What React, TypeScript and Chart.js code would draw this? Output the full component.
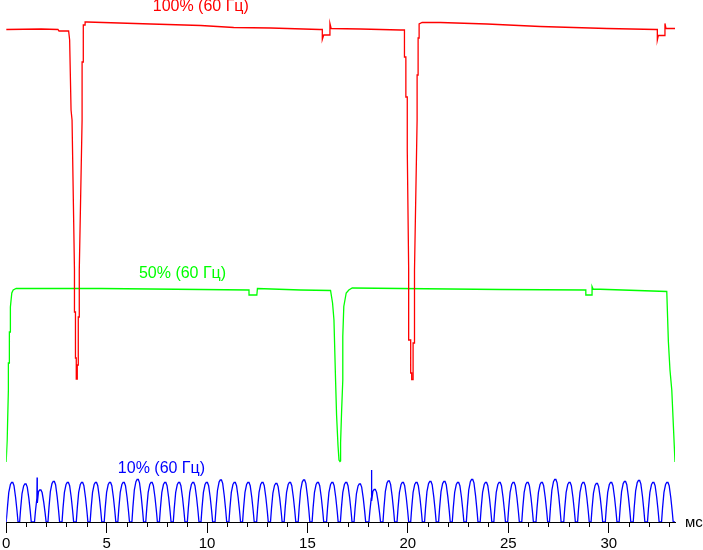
import React, { useEffect, useRef } from "react";
import { Chart, registerables } from "chart.js";

Chart.register(...registerables);

// ---- axis data ----
const X_MIN = 0;
const X_MAX = 33.3; // ms
const Y_MIN = 0;
const Y_MAX = 104.4; // arbitrary brightness units
const MAJOR_STEP = 5;
const MINOR_STEP = 1;
const X_UNIT = "мс";

// ---- series data: [time ms, level] ----
const redTrace: [number, number][] = [
  [0, 98.5], [1.74, 98.6], [2.58, 98.5], [2.63, 98.2], [3.11, 98.2], [3.16, 96.4],
  [3.23, 82.4], [3.28, 80.4], [3.4, 50.4], [3.4, 42.0], [3.45, 42.0], [3.45, 32.8],
  [3.49, 32.8], [3.49, 28.6], [3.54, 28.6], [3.54, 31.4], [3.59, 31.4], [3.59, 41.0],
  [3.64, 41.0], [3.64, 50.4], [3.78, 80.4], [3.78, 92.0], [3.84, 92.0], [3.84, 99.4],
  [3.93, 99.4], [3.93, 100.0], [4.03, 100.0], [7.21, 99.6], [9.69, 99.3], [11.33, 98.9],
  [13.17, 98.8], [15.61, 98.5], [15.74, 98.5], [15.74, 96.5], [15.81, 97.4], [16.08, 97.4],
  [16.12, 99.7], [16.18, 98.7], [17.64, 98.6], [19.63, 98.4], [19.83, 98.4], [19.83, 93.0],
  [19.9, 93.0], [19.9, 85.0], [19.97, 85.0], [19.97, 74.4], [20.04, 50.4], [20.04, 36.4],
  [20.14, 36.4], [20.14, 29.8], [20.19, 29.8], [20.19, 28.5], [20.26, 28.5], [20.26, 35.8],
  [20.33, 35.8], [20.33, 50.4], [20.46, 80.4], [20.46, 89.4], [20.51, 89.4], [20.51, 96.8],
  [20.56, 96.8], [20.56, 99.6], [20.71, 99.9], [21.62, 99.9], [23.94, 99.6], [26.59, 99.1],
  [29.91, 98.7], [32.36, 98.5], [32.42, 98.5], [32.42, 96.4], [32.47, 97.3], [32.78, 97.3],
  [32.8, 99.7], [32.85, 98.7], [33.3, 98.7],
];

const greenTrace: [number, number][] = [
  [0, 12.0], [0.05, 16.4], [0.11, 26.4], [0.11, 31.8], [0.16, 31.8], [0.16, 38.0],
  [0.21, 38.0], [0.21, 43.0], [0.28, 45.8], [0.35, 46.4], [0.5, 46.7], [4.72, 46.7],
  [9.69, 46.5], [12.09, 46.4], [12.09, 45.4], [12.48, 45.4], [12.51, 46.7], [14.66, 46.4],
  [16.15, 46.3], [16.25, 43.8], [16.32, 40.4], [16.4, 28.4], [16.45, 21.4], [16.52, 15.4],
  [16.57, 12.4], [16.62, 12.1], [16.65, 12.2], [16.65, 15.8], [16.7, 22.1], [16.76, 28.4],
  [16.76, 37.1], [16.81, 43.1], [16.93, 45.8], [17.06, 46.4], [17.23, 46.8], [19.63, 46.7],
  [24.6, 46.5], [28.86, 46.4], [28.86, 45.4], [29.17, 45.4], [29.17, 47.1], [29.22, 46.6],
  [32.89, 46.1], [32.97, 36.1], [33.05, 30.4], [33.14, 26.4], [33.3, 12.0],
];

// blue: PWM pulses (peak time ms, peak level)
const bluePeakMs = [
  0.3, 0.96, 1.7, 2.37, 3.07, 3.78, 4.47, 5.17, 5.85, 6.55, 7.24, 7.92, 8.61, 9.31, 9.99, 10.69,
  11.38, 12.06, 12.76, 13.45, 14.13, 14.83, 15.52, 16.24, 16.93, 17.61, 18.35, 19.05, 19.75,
  20.43, 21.12, 21.82, 22.5, 23.2, 23.89, 24.57, 25.26, 25.96, 26.67, 27.34, 28.05, 28.74,
  29.41, 30.12, 30.81, 31.51, 32.22, 32.92,
];
const bluePeakLevel = [
  7.9, 7.6, 6.4, 8.1, 7.9, 7.9, 7.9, 7.9, 7.9, 8.5, 7.9, 7.9, 7.9, 7.9, 7.9, 8.4,
  7.9, 7.9, 7.9, 7.7, 7.9, 8.4, 7.9, 7.9, 7.9, 7.6, 6.5, 8.2, 7.9, 7.9, 8.1, 8.1,
  7.9, 8.5, 7.9, 7.9, 7.9, 7.9, 7.9, 8.5, 7.9, 7.9, 7.7, 7.9, 8.1, 8.3, 7.9, 7.9,
];
// shape of one pulse: [offset from peak ms, fraction of peak]
const bluePulseShape: [number, number][] = [
  [-0.29, 0], [-0.24, 0.35], [-0.17, 0.75], [-0.09, 0.95], [-0.03, 1], [0.03, 1],
  [0.09, 0.92], [0.17, 0.62], [0.24, 0.28], [0.29, 0],
];
// spikes: [time ms, top level, level right after]
const blueSpikes: [number, number, number][] = [
  [1.54, 8.9, 3.8],
  [18.19, 10.4, 4.2],
];

const seriesNames = ["100% (60 Гц)", "50% (60 Гц)", "10% (60 Гц)"];

const FONT = '"Liberation Sans", Arial, sans-serif';
const COLORS = ["#ff0000", "#00ff00", "#0000ff"];

function buildBlue() {
  const pts: { x: number; y: number }[] = [{ x: X_MIN, y: 0 }];
  bluePeakMs.forEach((t, i) => {
    bluePulseShape.forEach(([dt, f]) => {
      pts.push({ x: +(t + dt).toFixed(3), y: +(f * bluePeakLevel[i]).toFixed(2) });
    });
  });
  blueSpikes.forEach(([t, top, after]) => {
    pts.push({ x: t, y: top });
    pts.push({ x: t + 0.01, y: after });
  });
  pts.push({ x: X_MAX, y: 0 });
  pts.sort((a, b) => a.x - b.x);
  return pts;
}

const toPts = (arr: [number, number][]) => arr.map(([x, y]) => ({ x, y }));

export default function App() {
  const ref = useRef<HTMLCanvasElement | null>(null);

  useEffect(() => {
    if (!ref.current) return;

    const labelPos: [number, number][] = [
      [9.69, 103.0],
      [8.78, 49.6],
      [7.73, 10.6],
    ];

    const overlay = {
      id: "overlay",
      afterDraw(chart: any) {
        const { ctx, chartArea } = chart;
        const xs = chart.scales.x;
        const ys = chart.scales.y;
        ctx.save();
        // minor ticks
        ctx.strokeStyle = "#000";
        ctx.lineWidth = 1;
        for (let v = X_MIN + MINOR_STEP; v <= X_MAX; v += MINOR_STEP) {
          if (Math.abs(v % MAJOR_STEP) < 1e-6) continue;
          const px = Math.round(xs.getPixelForValue(v)) + 0.5;
          ctx.beginPath();
          ctx.moveTo(px, chartArea.bottom);
          ctx.lineTo(px, chartArea.bottom + 5);
          ctx.stroke();
        }
        // unit label
        ctx.fillStyle = "#000";
        ctx.font = `15px ${FONT}`;
        ctx.textAlign = "left";
        ctx.textBaseline = "middle";
        ctx.fillText(X_UNIT, chartArea.right + 10, chartArea.bottom + 1);
        // series labels
        ctx.font = `16px ${FONT}`;
        ctx.textAlign = "center";
        seriesNames.forEach((name, i) => {
          ctx.fillStyle = COLORS[i];
          ctx.fillText(name, xs.getPixelForValue(labelPos[i][0]), ys.getPixelForValue(labelPos[i][1]));
        });
        ctx.restore();
      },
    };

    const chart = new Chart(ref.current, {
      type: "line",
      data: {
        datasets: [
          { data: toPts(redTrace), borderColor: COLORS[0], borderWidth: 1.3, pointRadius: 0, tension: 0 },
          { data: toPts(greenTrace), borderColor: COLORS[1], borderWidth: 1.3, pointRadius: 0, tension: 0 },
          { data: buildBlue(), borderColor: COLORS[2], borderWidth: 1.3, pointRadius: 0, tension: 0 },
        ],
      },
      options: {
        animation: false,
        responsive: false,
        layout: { padding: { left: 5, right: 28, top: 0, bottom: 0 } },
        plugins: { legend: { display: false }, tooltip: { enabled: false } },
        scales: {
          x: {
            type: "linear",
            min: X_MIN,
            max: X_MAX,
            ticks: {
              stepSize: MAJOR_STEP,
              includeBounds: false,
              autoSkip: false,
              maxRotation: 0,
              color: "#000",
              padding: 2,
              font: { family: FONT, size: 15 },
            },
            grid: { drawOnChartArea: false, drawTicks: true, tickLength: 11, color: "#000", lineWidth: 1 },
            border: { display: true, color: "#000", width: 1 },
            afterFit: (s: any) => {
              s.height = 28;
            },
          },
          y: { display: false, min: Y_MIN, max: Y_MAX },
        },
      },
      plugins: [overlay],
    } as any);

    return () => chart.destroy();
  }, []);

  return (
    <div style={{ position: "absolute", left: 0, top: 0, width: 703, height: 550, background: "#fff" }}>
      <canvas ref={ref} width={703} height={550} style={{ display: "block" }} />
    </div>
  );
}
